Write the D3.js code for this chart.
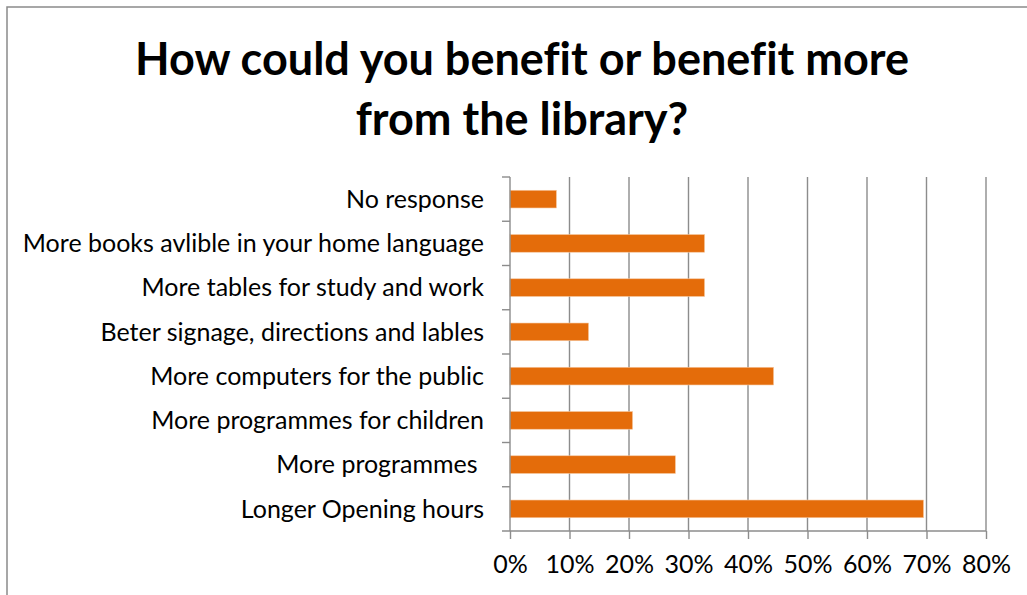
<!DOCTYPE html>
<html>
<head>
<meta charset="utf-8">
<script src="https://cdn.jsdelivr.net/npm/d3@7"></script>
<style>
  html, body { margin: 0; padding: 0; background: #fff; }
  svg { display: block; }
  text { font-family: Lato, "Open Sans", sans-serif; fill: #000; white-space: pre;
         font-variant-ligatures: none; }
</style>
</head>
<body>
<svg id="chart" width="1027" height="595"></svg>
<script>
// Survey answers, listed bottom-to-top as they appear on the chart
const categories = [
  "Longer Opening hours",
  "More programmes ",
  "More programmes for children",
  "More computers for the public",
  "Beter signage, directions and lables",
  "More tables for study and work",
  "More books avlible in your home language",
  "No response"
];
const shares = [0.695, 0.278, 0.206, 0.443, 0.132, 0.327, 0.327, 0.078];
const tickValues = [0, 0.1, 0.2, 0.3, 0.4, 0.5, 0.6, 0.7, 0.8];
const titleLines = ["How could you benefit or benefit more", "from the library?"];

const svg = d3.select("#chart");
const W = 1027, H = 595;
const plot = { left: 510, right: 986, top: 177, bottom: 531 };

// outer chart frame
svg.append("rect")
  .attr("x", 7).attr("y", 7)
  .attr("width", W + 10).attr("height", H + 10)
  .attr("fill", "#fff")
  .attr("stroke", "#8a8a8a")
  .attr("stroke-width", 1.5);

// title
svg.append("text")
  .attr("x", 522)
  .attr("text-anchor", "middle")
  .attr("font-weight", "bold")
  .attr("font-size", 45)
  .selectAll("tspan")
  .data(titleLines)
  .join("tspan")
  .attr("x", 522)
  .attr("y", (d, i) => 75 + i * 60)
  .text(d => d);

const x = d3.scaleLinear().domain([0, 0.8]).range([plot.left, plot.right]);
// reversed so the first category sits at the bottom
const y = d3.scaleBand()
  .domain(categories.slice().reverse())
  .range([plot.top, plot.bottom])
  .paddingInner(0.6)
  .paddingOuter(0.3);

const gridColor = "#8c8c8c";

// vertical gridlines
svg.append("g")
  .selectAll("line")
  .data(tickValues.slice(1))
  .join("line")
  .attr("x1", d => x(d)).attr("x2", d => x(d))
  .attr("y1", plot.top).attr("y2", plot.bottom)
  .attr("stroke", gridColor)
  .attr("stroke-width", 1.4);

// bars
svg.append("g")
  .selectAll("rect")
  .data(categories.map((c, i) => ({ c, v: shares[i] })))
  .join("rect")
  .attr("x", x(0))
  .attr("y", d => y(d.c))
  .attr("width", d => x(d.v) - x(0))
  .attr("height", y.bandwidth())
  .attr("fill", "#E46C0A")
  .attr("stroke", "#F6C8A0")
  .attr("stroke-width", 0.6);

// value axis along the bottom
const xAxis = d3.axisBottom(x)
  .tickValues(tickValues)
  .tickFormat(d3.format(".0%"))
  .tickSize(8)
  .tickPadding(16);
const gx = svg.append("g")
  .attr("transform", `translate(0,${plot.bottom})`)
  .call(xAxis);
gx.select(".domain").remove();
gx.append("line")
  .attr("x1", plot.left - 8).attr("x2", plot.right)
  .attr("stroke", gridColor).attr("stroke-width", 1.4);
gx.selectAll(".tick line").attr("stroke", gridColor).attr("stroke-width", 1.4);
gx.selectAll(".tick text")
  .attr("font-size", 25)
  .attr("font-family", "Lato, sans-serif")
  .attr("fill", "#000");

// category axis on the left: ticks sit between categories
const gy = svg.append("g");
gy.append("line")
  .attr("x1", plot.left).attr("x2", plot.left)
  .attr("y1", plot.top).attr("y2", plot.bottom)
  .attr("stroke", gridColor).attr("stroke-width", 1.4);
const step = y.step();
gy.selectAll("line.sep")
  .data(d3.range(categories.length))
  .join("line")
  .attr("class", "sep")
  .attr("x1", plot.left - 8).attr("x2", plot.left)
  .attr("y1", i => plot.top + i * step)
  .attr("y2", i => plot.top + i * step)
  .attr("stroke", gridColor).attr("stroke-width", 1.4);
gy.selectAll("text")
  .data(categories)
  .join("text")
  .attr("x", plot.left - 26)
  .attr("y", d => y(d) + y.bandwidth() / 2)
  .attr("dy", "0.35em")
  .attr("text-anchor", "end")
  .attr("font-size", 25)
  .text(d => d);
</script>
</body>
</html>
